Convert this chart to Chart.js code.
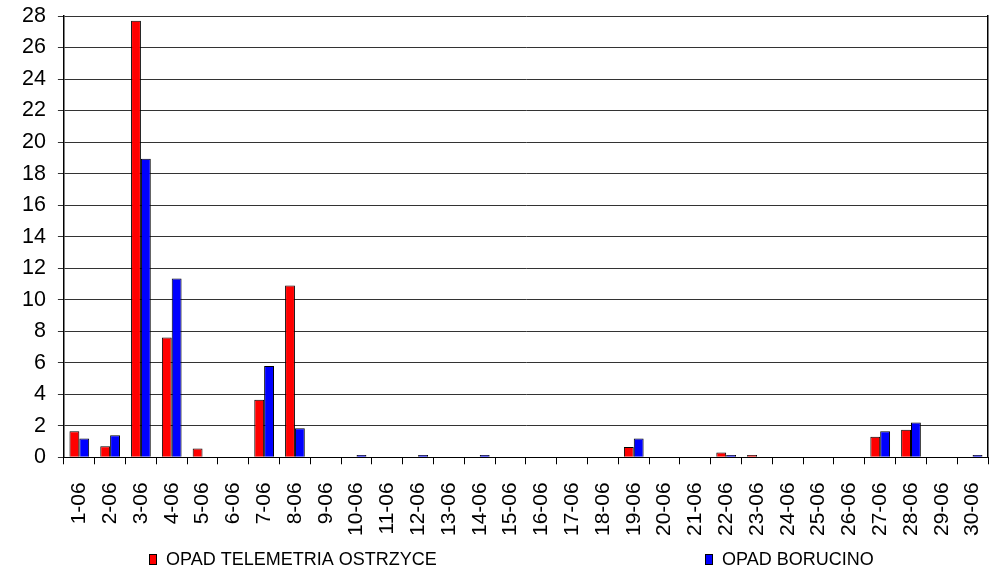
<!DOCTYPE html>
<html>
<head>
<meta charset="utf-8">
<script src="https://cdn.jsdelivr.net/npm/chart.js@4/dist/chart.umd.min.js"></script>
<style>
  html, body { margin: 0; padding: 0; background: #fff; }
  #wrap { width: 997px; height: 571px; }
</style>
</head>
<body>
<div id="wrap"><canvas id="chart-opad"></canvas></div>
<script>
// dni czerwca
var days = ['1-06','2-06','3-06','4-06','5-06','6-06','7-06','8-06','9-06','10-06',
            '11-06','12-06','13-06','14-06','15-06','16-06','17-06','18-06','19-06','20-06',
            '21-06','22-06','23-06','24-06','25-06','26-06','27-06','28-06','29-06','30-06'];

// opad [mm]
var opadOstrzyce = [1.65, 0.7, 27.7, 7.6, 0.55, 0, 3.65, 10.9, 0, 0,
                    0, 0, 0, 0, 0, 0, 0, 0, 0.65, 0,
                    0, 0.3, 0.15, 0, 0, 0, 1.3, 1.75, 0, 0];
var opadBorucino = [1.2, 1.4, 18.95, 11.35, 0, 0, 5.8, 1.85, 0, 0.15,
                    0, 0.15, 0, 0.15, 0, 0, 0, 0, 1.2, 0,
                    0, 0.15, 0, 0, 0, 0, 1.65, 2.2, 0, 0.15];

var labelsSeries = ['OPAD TELEMETRIA OSTRZYCE', 'OPAD BORUCINO'];
var yTicks = [0, 2, 4, 6, 8, 10, 12, 14, 16, 18, 20, 22, 24, 26, 28];

var FONT = '"Liberation Sans", Arial, sans-serif';

// legenda rysowana recznie (dwa elementy daleko od siebie)
var legendaPlugin = {
    id: 'legenda',
    afterDraw: function (chart) {
        var ctx = chart.ctx;
        var pos = [149, 705];
        var y = chart.height - 12;
        ctx.save();
        ctx.font = '18px ' + FONT;
        ctx.textBaseline = 'middle';
        ctx.textAlign = 'left';
        chart.data.datasets.forEach(function (ds, i) {
            ctx.fillStyle = ds.backgroundColor;
            ctx.fillRect(pos[i], y - 5, 7, 10);
            ctx.strokeStyle = '#000';
            ctx.lineWidth = 1;
            ctx.strokeRect(pos[i] + 0.5, y - 4.5, 7, 10);
            ctx.fillStyle = '#000';
            ctx.fillText(ds.label, pos[i] + 17, y + 1);
        });
        ctx.restore();
    }
};

function noOverhang(axis) {
    axis.paddingTop = 0;
    axis.paddingBottom = 0;
    axis.paddingLeft = 0;
    axis.paddingRight = 0;
}

var ctx = document.getElementById('chart-opad').getContext('2d');
var chartOpad = new Chart(ctx, {
    type: 'bar',
    data: {
        labels: days,
        datasets: [{
            label: labelsSeries[0],
            data: opadOstrzyce,
            backgroundColor: '#ff0000',
            borderColor: '#000',
            borderWidth: 1
        }, {
            label: labelsSeries[1],
            data: opadBorucino,
            backgroundColor: '#0000ff',
            borderColor: '#000',
            borderWidth: 1
        }]
    },
    options: {
        responsive: true,
        maintainAspectRatio: false,
        animation: false,
        datasets: {
            bar: { categoryPercentage: 0.64, barPercentage: 1.0 }
        },
        layout: { padding: { top: 16, right: 9, left: 10, bottom: 17 } },
        plugins: {
            legend: { display: false },
            tooltip: { enabled: false }
        },
        scales: {
            x: {
                afterFit: noOverhang,
                grid: {
                    display: true,
                    drawOnChartArea: false,
                    drawTicks: true,
                    offset: true,
                    tickLength: 7,
                    color: '#000'
                },
                border: { color: '#000', width: 1 },
                ticks: {
                    autoSkip: false,
                    maxRotation: 90,
                    minRotation: 90,
                    padding: 18,
                    color: '#000',
                    font: { family: FONT, size: 21 }
                }
            },
            y: {
                min: 0,
                max: 28,
                afterBuildTicks: function (axis) {
                    axis.ticks = yTicks.map(function (v) { return { value: v }; });
                },
                afterFit: noOverhang,
                grid: {
                    color: '#333',
                    lineWidth: 1,
                    tickLength: 6,
                    drawTicks: true
                },
                border: { color: '#000', width: 1.5 },
                ticks: {
                    padding: 12,
                    color: '#000',
                    font: { family: FONT, size: 21.5 }
                }
            },
            y2: {
                position: 'right',
                afterFit: function (axis) { noOverhang(axis); axis.width = 0; },
                grid: { display: false, drawTicks: false },
                ticks: { display: false },
                border: { color: '#000', width: 1.5 }
            }
        }
    },
    plugins: [legendaPlugin]
});
</script>
</body>
</html>
